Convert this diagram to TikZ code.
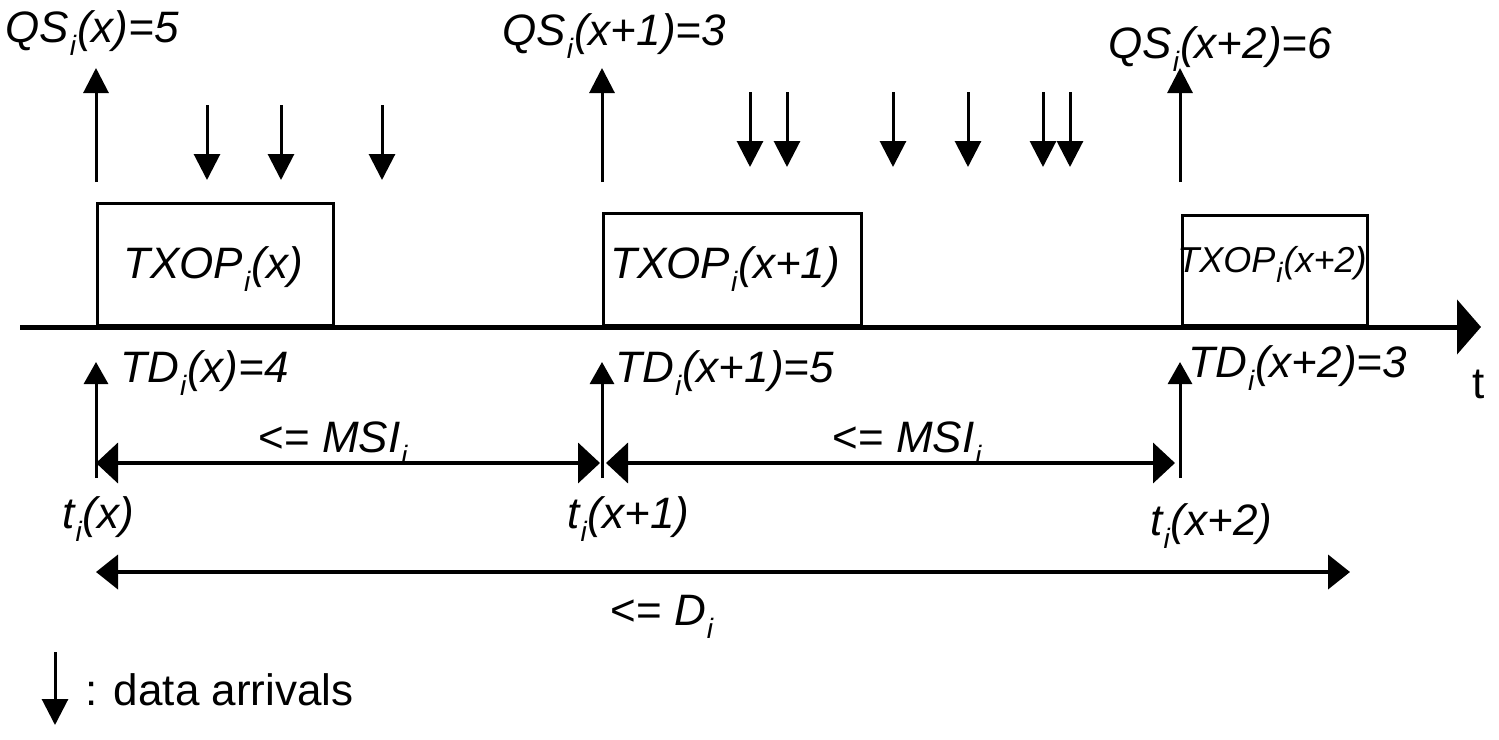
\documentclass[tikz,border=0pt]{standalone}
\usepackage{fontspec}
\setmainfont{Liberation Sans}
\usetikzlibrary{arrows.meta}
\newcommand\mysub[1]{\kern0.5pt\raisebox{-0.3em}{\fontsize{14}{14}\selectfont\itshape #1}\kern0.5pt}
\begin{document}
\begin{tikzpicture}[x=0.5pt,y=-0.5pt,
  lbl/.style={anchor=base west, inner sep=0pt, font=\fontsize{22}{24}\selectfont\itshape},
  uplbl/.style={anchor=base west, inner sep=0pt, font=\fontsize{22}{24}\selectfont},
  txbox/.style={draw, line width=1.5pt, anchor=south west, inner sep=0pt},
  qsarrow/.style={line width=1.5pt, -{Triangle[length=12.5pt,width=12.5pt]}},
  dataarrow/.style={line width=1.5pt, -{Triangle[length=13pt,width=13pt]}},
  tdarrow/.style={line width=1.5pt, -{Triangle[length=11pt,width=12pt]}},
  msiarrow/.style={line width=2pt, {Triangle[length=11pt,width=20pt]}-{Triangle[length=11pt,width=20pt]}},
  darrow/.style={line width=2pt, {Triangle[length=11pt,width=17pt]}-{Triangle[length=11pt,width=17pt]}},
  axis/.style={line width=2.5pt, -{Triangle[length=12pt,width=27pt]}}]
\useasboundingbox (0,0) rectangle (1499,739);

% time axis
\coordinate (ax0) at (20,327);
\coordinate (ax1) at (1481,327);
\draw[axis] (ax0) -- (ax1);
\node[uplbl] (tlab) at (1472,398) {t};

% TXOP boxes
\node[txbox, minimum width=118pt, minimum height=61pt] (box1) at (96,327) {};
\node[txbox, minimum width=129pt, minimum height=56pt] (box2) at (602,327) {};
\node[txbox, minimum width=92.5pt, minimum height=55pt] (box3) at (1181,327) {};
\node[lbl] (bt1) at (123,278) {TXOP\mysub{i}(x)};
\node[lbl] (bt2) at (610,278) {TXOP\mysub{i}(x+1)};
\node[lbl, font=\fontsize{18}{20}\selectfont\itshape] (bt3) at (1177,272) {TXOP\mysub{i}(x+2)};

% QS arrows and labels
\coordinate (qs1a) at (96,182); \coordinate (qs1b) at (96,68);
\coordinate (qs2a) at (602,182); \coordinate (qs2b) at (602,68);
\coordinate (qs3a) at (1180,182); \coordinate (qs3b) at (1180,68);
\draw[qsarrow] (qs1a) -- (qs1b);
\draw[qsarrow] (qs2a) -- (qs2b);
\draw[qsarrow] (qs3a) -- (qs3b);
\node[lbl] (qsl1) at (5,42) {QS\mysub{i}(x)=5};
\node[lbl] (qsl2) at (502,45) {QS\mysub{i}(x+1)=3};
\node[lbl] (qsl3) at (1108,58) {QS\mysub{i}(x+2)=6};

% data arrivals
\foreach \n/\x/\ya/\yb in {d1/207/105/180, d2/281/105/180, d3/382/105/180,
   d4/750/92/167, d5/787/92/167, d6/893/92/167, d7/968/92/167, d8/1043/92/167, d9/1070/92/167}{
  \coordinate (\n a) at (\x,\ya); \coordinate (\n b) at (\x,\yb);
  \draw[dataarrow] (\n a) -- (\n b);
}

% TD arrows and labels
\coordinate (td1a) at (96,478); \coordinate (td1b) at (96,362);
\coordinate (td2a) at (602,478); \coordinate (td2b) at (602,362);
\coordinate (td3a) at (1180,478); \coordinate (td3b) at (1180,362);
\draw[tdarrow] (td1a) -- (td1b);
\draw[tdarrow] (td2a) -- (td2b);
\draw[tdarrow] (td3a) -- (td3b);
\node[lbl] (tdl1) at (120,382) {TD\mysub{i}(x)=4};
\node[lbl] (tdl2) at (615,382) {TD\mysub{i}(x+1)=5};
\node[lbl] (tdl3) at (1188,377) {TD\mysub{i}(x+2)=3};

% MSI intervals
\coordinate (m1a) at (96,463); \coordinate (m1b) at (600,463);
\coordinate (m2a) at (606,463); \coordinate (m2b) at (1175,463);
\draw[msiarrow] (m1a) -- (m1b);
\draw[msiarrow] (m2a) -- (m2b);
\node[uplbl] (ml1) at (258,452) {<= \textit{MSI\mysub{i}}};
\node[uplbl] (ml2) at (832,452) {<= \textit{MSI\mysub{i}}};

% t_i labels
\node[lbl] (ti1) at (62,528) {t\mysub{i}(x)};
\node[lbl] (ti2) at (567,528) {t\mysub{i}(x+1)};
\node[lbl] (ti3) at (1150,535) {t\mysub{i}(x+2)};

% D interval
\coordinate (da) at (96,572); \coordinate (db) at (1350,572);
\draw[darrow] (da) -- (db);
\node[uplbl] (dl) at (610,625) {<= \textit{D\mysub{i}}};

% legend
\coordinate (lga) at (55,652); \coordinate (lgb) at (55,725);
\draw[dataarrow] (lga) -- (lgb);
\node[uplbl] (lgt) at (85,705) {: data arrivals};
\end{tikzpicture}
\end{document}
